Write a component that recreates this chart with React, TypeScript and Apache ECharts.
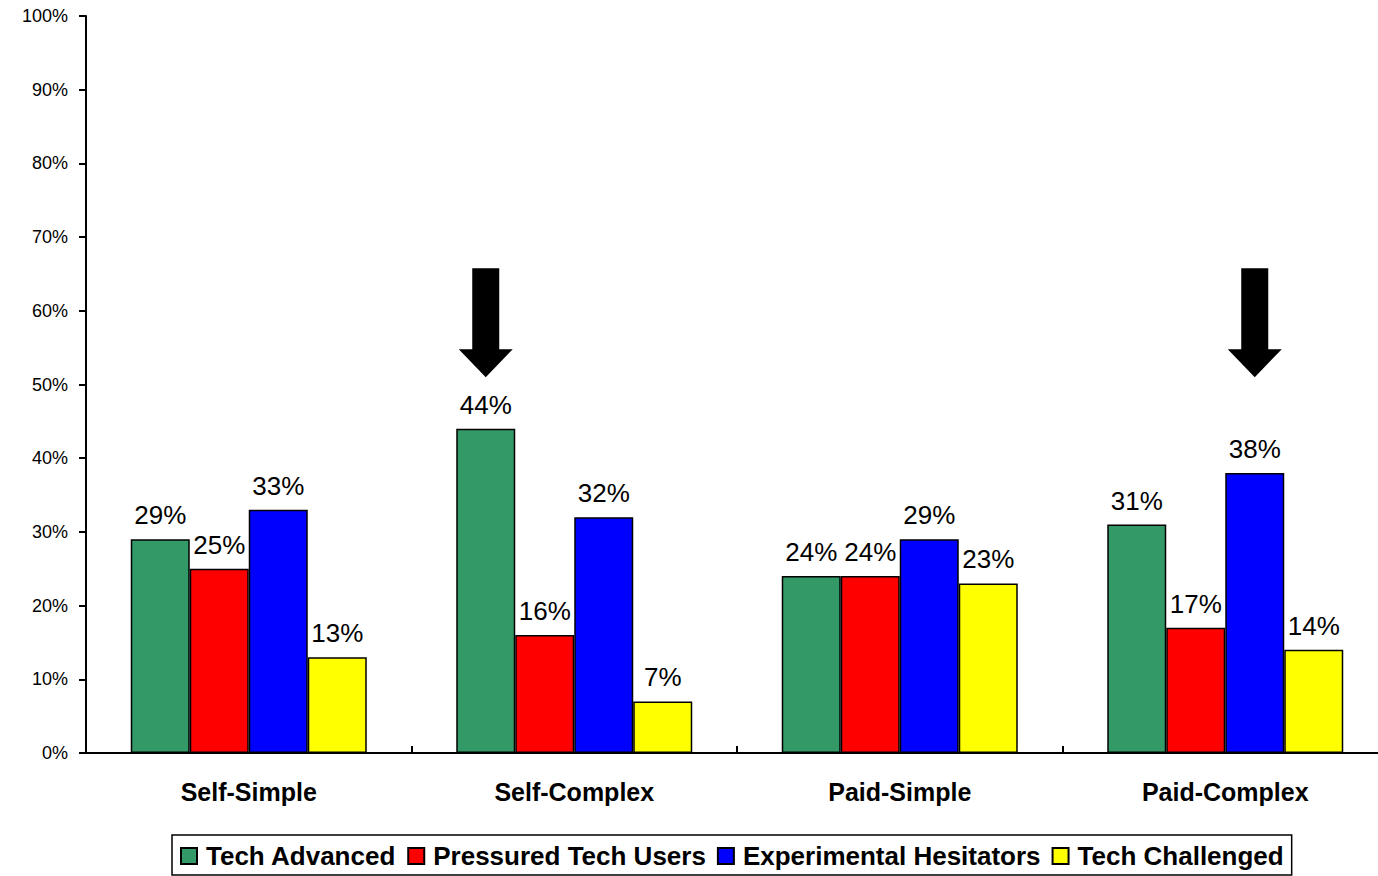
import React, { useEffect, useRef } from "react";
import * as echarts from "echarts";

const categories = ["Self-Simple", "Self-Complex", "Paid-Simple", "Paid-Complex"];
const seriesNames = ["Tech Advanced", "Pressured Tech Users", "Experimental Hesitators", "Tech Challenged"];
const techAdvanced = [29, 44, 24, 31];
const pressuredTechUsers = [25, 16, 24, 17];
const experimentalHesitators = [33, 32, 29, 38];
const techChallenged = [13, 7, 23, 14];
const colors = ["#339966", "#ff0000", "#0000ff", "#ffff00"];
const yTicks = { min: 0, max: 100, interval: 10 };
// arrow annotations: [series index, category, value at arrow tip]
const arrows: [number, string, number][] = [
  [0, "Self-Complex", 51],
  [2, "Paid-Complex", 51],
];

const arrowPath = "path://M13.5 0 H40.5 V81 H54 L27 109 L0 81 H13.5 Z";

export default function App() {
  const ref = useRef<HTMLDivElement>(null);
  useEffect(() => {
    if (!ref.current) return;
    const chart = echarts.init(ref.current, undefined, { renderer: "svg" });
    const values = [techAdvanced, pressuredTechUsers, experimentalHesitators, techChallenged];
    const font = "Liberation Sans, Arial, sans-serif";
    chart.setOption({
      animation: false,
      backgroundColor: "#ffffff",
      textStyle: { fontFamily: font },
      grid: { left: 86, top: 16, right: 2, bottom: 123, containLabel: false },
      legend: {
        left: 172,
        top: 835,
        orient: "horizontal",
        icon: "rect",
        itemWidth: 16,
        itemHeight: 16,
        itemGap: 11,
        padding: [8, 8, 6, 8],
        borderColor: "#000",
        borderWidth: 1.5,
        data: seriesNames,
        textStyle: { fontFamily: font, fontSize: 26, fontWeight: "bold", color: "#000", padding: [0, 0, 0, 4] },
      },
      xAxis: {
        type: "category",
        data: categories,
        axisLine: { lineStyle: { color: "#000", width: 2 } },
        axisTick: { show: true, inside: true, length: 7, lineStyle: { color: "#000", width: 2 } },
        axisLabel: { fontFamily: font, fontSize: 25, fontWeight: "bold", color: "#000", margin: 26 },
      },
      yAxis: {
        type: "value",
        min: yTicks.min,
        max: yTicks.max,
        interval: yTicks.interval,
        splitLine: { show: false },
        axisLine: { show: true, lineStyle: { color: "#000", width: 2 } },
        axisTick: { show: true, length: 7, lineStyle: { color: "#000", width: 2 } },
        axisLabel: { fontFamily: font, fontSize: 18, color: "#000", margin: 18, formatter: "{value}%" },
      },
      series: seriesNames.map((name, i) => ({
        name,
        type: "bar",
        data: values[i],
        barWidth: 59,
        barGap: "0%",
        itemStyle: { color: colors[i], borderColor: "#000", borderWidth: 1.5 },
        label: {
          show: true,
          position: "top",
          distance: 11,
          formatter: "{c}%",
          fontFamily: font,
          fontSize: 26,
          color: "#000",
        },
        markPoint: {
          symbol: arrowPath,
          symbolSize: [54, 109],
          symbolOffset: [0, "-50%"],
          symbolKeepAspect: false,
          itemStyle: { color: "#000", borderWidth: 0 },
          label: { show: false },
          data: arrows
            .filter((a) => a[0] === i)
            .map((a) => ({ coord: [a[1], a[2]] })),
        },
      })),
    });
    return () => chart.dispose();
  }, []);
  return (
    <div
      ref={ref}
      style={{ position: "fixed", left: 0, top: 0, width: 1390, height: 876 }}
    />
  );
}
